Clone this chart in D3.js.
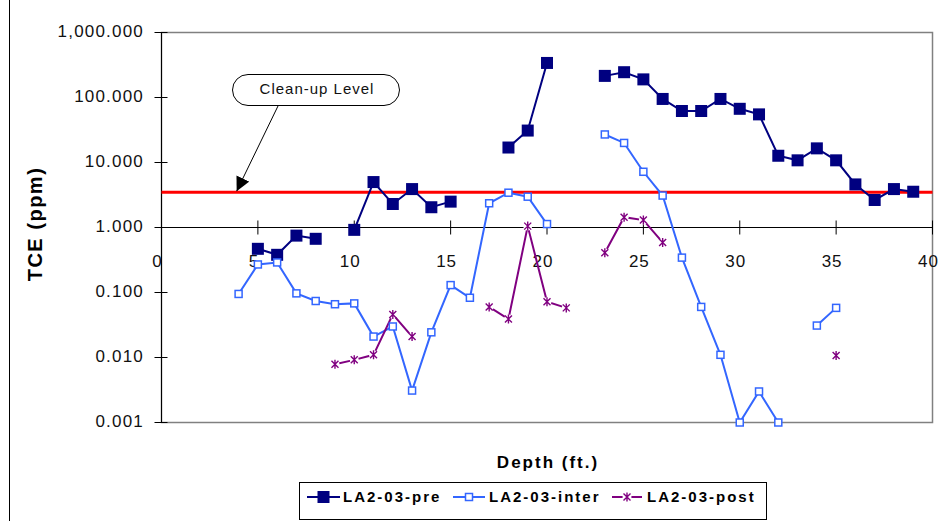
<!DOCTYPE html>
<html>
<head>
<meta charset="utf-8">
<script src="https://cdn.jsdelivr.net/npm/d3@7"></script>
<style>
  body { margin: 0; background: #fff; }
  svg { font-family: "Liberation Sans", Arial, sans-serif; }
</style>
</head>
<body>
<svg id="chart" width="948" height="521"></svg>
<script>
"use strict";
// depth in ft, one entry per sample position
const depths = [4, 5, 6, 7, 8, 9, 10, 11, 12, 13, 14, 15, 16, 17, 18, 19, 20, 21,
    22, 23, 24, 25, 26, 27, 28, 29, 30, 31, 32, 33, 34, 35, 36, 37, 38, 39];
const preValues = [null, 0.47, 0.38, 0.75, 0.67, null, 0.92, 5.0, 2.3, 3.9, 2.05, 2.5, null, null, 17, 31, 340, null,
    null, 215, 245, 190, 95, 62, 62, 95, 67, 55, 12.7, 10.8, 16.5, 10.8, 4.6, 2.65, 3.9, 3.55];
const interValues = [0.095, 0.27, 0.29, 0.097, 0.074, 0.066, 0.068, 0.021, 0.030, 0.0031, 0.0244, 0.13, 0.083, 2.36, 3.43, 2.98, 1.13, null,
    null, 27, 20, 7.2, 3.1, 0.344, 0.060, 0.011, 0.001, 0.003, 0.001, null, 0.031, 0.058, null, null, null, null];
const postValues = [null, null, null, null, null, 0.0079, 0.0092, 0.011, 0.046, 0.021, null, null, null, 0.060, 0.039, 1.05, 0.072, 0.058,
    null, 0.41, 1.44, 1.30, 0.59, null, null, null, null, null, null, null, null, 0.0107, null, null, null, null];
const cleanupLevel = 3.5;
const xTicks = [0, 5, 10, 15, 20, 25, 30, 35, 40];
const yTicks = [0.001, 0.01, 0.1, 1, 10, 100, 1000];
const seriesNames = ['LA2-03-pre', 'LA2-03-inter', 'LA2-03-post'];
const seriesColors = ['#000080', '#3366ff', '#800080'];

const svg = d3.select('#chart');
const x = d3.scaleLinear().domain([0, 40]).range([161.5, 932.5]);
const y = d3.scaleLog().domain([0.001, 1000]).range([422.5, 32.5]);
const fmt = d3.format(',.3f');

// outer frame (left edge only visible)
svg.append('line').attr('x1', 9.5).attr('x2', 9.5).attr('y1', 0).attr('y2', 521)
    .attr('stroke', '#000').attr('stroke-width', 1);

// plot border
svg.append('rect').attr('x', x(0)).attr('y', y(1000))
    .attr('width', x(40) - x(0)).attr('height', y(0.001) - y(1000))
    .attr('fill', 'none').attr('stroke', '#808080').attr('stroke-width', 1.5);

// y axis
svg.append('line').attr('x1', x(0)).attr('x2', x(0)).attr('y1', y(1000)).attr('y2', y(0.001))
    .attr('stroke', '#000');
svg.selectAll('.ytick').data(yTicks).enter().append('line')
    .attr('x1', x(0) - 7).attr('x2', x(0) + 6)
    .attr('y1', d => y(d)).attr('y2', d => y(d))
    .attr('stroke', '#000');
svg.selectAll('.ylab').data(yTicks).enter().append('text')
    .attr('x', 144).attr('y', d => y(d) + 4)
    .attr('text-anchor', 'end').attr('font-size', '17px').attr('letter-spacing', '1.2px')
    .attr('fill', '#111')
    .text(d => fmt(d));

// x axis crossing at 1
svg.append('line').attr('x1', x(0)).attr('x2', x(40)).attr('y1', y(1)).attr('y2', y(1))
    .attr('stroke', '#000');
svg.selectAll('.xtick').data(xTicks).enter().append('line')
    .attr('x1', d => x(d)).attr('x2', d => x(d))
    .attr('y1', y(1) - 7).attr('y2', y(1) + 7)
    .attr('stroke', '#000');
svg.selectAll('.xlab').data(xTicks).enter().append('text')
    .attr('x', d => x(d) - 4).attr('y', y(1) + 39)
    .attr('text-anchor', 'middle').attr('font-size', '17px').attr('letter-spacing', '1px')
    .attr('fill', '#111')
    .text(d => d);

// axis titles
svg.append('text').attr('transform', 'translate(42,224) rotate(-90)')
    .attr('text-anchor', 'middle').attr('font-size', '20px').attr('font-weight', 'bold')
    .attr('letter-spacing', '1.5px')
    .text('TCE (ppm)');
svg.append('text').attr('x', 548).attr('y', 468)
    .attr('text-anchor', 'middle').attr('font-size', '17px').attr('font-weight', 'bold')
    .attr('letter-spacing', '2px')
    .text('Depth (ft.)');

// clean-up level line
svg.append('line').attr('x1', x(0)).attr('x2', x(40))
    .attr('y1', y(cleanupLevel)).attr('y2', y(cleanupLevel))
    .attr('stroke', '#ff0000').attr('stroke-width', 3);

// series
const line = d3.line()
    .defined(d => d.v !== null)
    .x(d => x(d.depth))
    .y(d => y(d.v));

const allSeries = [preValues, interValues, postValues].map((vals, i) => ({
    name: seriesNames[i],
    color: seriesColors[i],
    points: depths.map((dp, j) => ({ depth: dp, v: vals[j] }))
}));

allSeries.forEach((s) => {
    svg.append('path').datum(s.points)
        .attr('d', line)
        .attr('fill', 'none')
        .attr('stroke', s.color)
        .attr('stroke-width', 2);
});

function drawMarker(g, kind, color) {
    if (kind === 0) {
        g.append('rect').attr('x', -6).attr('y', -6).attr('width', 12).attr('height', 12)
            .attr('fill', color);
    } else if (kind === 1) {
        g.append('rect').attr('x', -3.5).attr('y', -3.5).attr('width', 7).attr('height', 7)
            .attr('fill', '#fff').attr('stroke', color).attr('stroke-width', 1.5);
    } else {
        g.append('circle').attr('r', 4.5).attr('fill', '#fff');
        g.append('path').attr('d', 'M-3.5,-3.5L3.5,3.5M-3.5,3.5L3.5,-3.5M0,-4.5L0,4.5')
            .attr('stroke', color).attr('stroke-width', 1.4).attr('fill', 'none');
    }
}

allSeries.forEach((s, i) => {
    svg.selectAll('.m' + i).data(s.points.filter(d => d.v !== null)).enter()
        .append('g')
        .attr('transform', d => `translate(${x(d.depth)},${y(d.v)})`)
        .each(function () { drawMarker(d3.select(this), i, s.color); });
});

// annotation
const defs = svg.append('defs');
defs.append('marker').attr('id', 'arrow').attr('viewBox', '0 0 10 10')
    .attr('refX', 10).attr('refY', 5).attr('markerWidth', 14).attr('markerHeight', 14)
    .attr('markerUnits', 'userSpaceOnUse').attr('orient', 'auto')
    .append('path').attr('d', 'M0,0L10,5L0,10Z').attr('fill', '#000');

svg.append('line').attr('x1', 278).attr('y1', 106).attr('x2', x(3.9)).attr('y2', y(cleanupLevel) - 1)
    .attr('stroke', '#000').attr('stroke-width', 1).attr('marker-end', 'url(#arrow)');
svg.append('rect').attr('x', 232.5).attr('y', 74.5).attr('width', 167).attr('height', 31)
    .attr('rx', 15.5).attr('ry', 15.5)
    .attr('fill', '#fff').attr('stroke', '#000').attr('stroke-width', 1);
svg.append('text').attr('x', 317).attr('y', 94)
    .attr('text-anchor', 'middle').attr('font-size', '15px').attr('letter-spacing', '1px')
    .attr('fill', '#111')
    .text('Clean-up Level');

// legend
svg.append('rect').attr('x', 299.5).attr('y', 482.5).attr('width', 467).attr('height', 37)
    .attr('fill', '#fff').attr('stroke', '#000').attr('stroke-width', 1);
const legendPos = [
    { x1: 307, x2: 340, text: 343 },
    { x1: 453, x2: 485, text: 489 },
    { x1: 612, x2: 642, text: 647 }
];
allSeries.forEach((s, i) => {
    const p = legendPos[i];
    svg.append('line').attr('x1', p.x1).attr('x2', p.x2).attr('y1', 497).attr('y2', 497)
        .attr('stroke', s.color).attr('stroke-width', 2);
    const g = svg.append('g').attr('transform', `translate(${(p.x1 + p.x2) / 2},497)`);
    drawMarker(g, i, s.color);
    svg.append('text').attr('x', p.text).attr('y', 502)
        .attr('font-size', '15px').attr('font-weight', 'bold').attr('letter-spacing', '2px')
        .text(s.name);
});
</script>
</body>
</html>
